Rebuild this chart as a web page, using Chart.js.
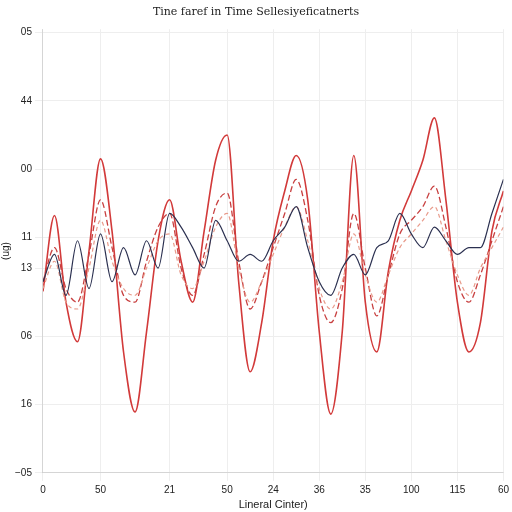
<!DOCTYPE html>
<html>
<head>
<meta charset="utf-8">
<script src="https://cdn.jsdelivr.net/npm/chart.js@4"></script>
<style>
  body { margin: 0; background: #fff; }
  #wrap { width: 512px; height: 512px; }
</style>
</head>
<body>
<div id="wrap"><canvas id="c"></canvas></div>
<script>
// x positions (41 samples) and the few labelled ticks
const xLabels = ['0', '50', '21', '50', '24', '36', '35', '100', '115', '60'];
const xTickIdx = [0, 5, 11, 16, 20, 24, 28, 32, 36, 40];

const yTickVals = [0, 1, 2, 3, 3.45, 4.45, 5.45, 6.45];
const yTickText = ['\u221205', '16', '06', '13', '11', '00', '44', '05'];

const bigRed = [2.66, 3.77, 2.5, 1.92, 3.25, 4.6, 3.54, 1.77, 0.89, 2.07, 3.4, 4.0, 3.1, 2.5, 3.54, 4.58, 4.95, 2.8, 1.48, 2.2,
  3.4, 4.13, 4.65, 4.0, 2.07, 0.86, 2.07, 4.65, 2.5, 1.77, 2.95, 3.7, 4.13, 4.58, 5.2, 4.0, 2.5, 1.77, 2.2, 3.54, 4.13];
const midRed = [2.8, 3.3, 2.7, 2.5, 3.2, 4.0, 3.3, 2.6, 2.5, 3.1, 3.6, 3.8, 3.0, 2.6, 3.2, 3.9, 4.1, 3.1, 2.4, 2.8,
  3.3, 3.8, 4.3, 3.7, 2.6, 2.2, 2.7, 3.8, 3.0, 2.3, 2.9, 3.5, 3.7, 3.9, 4.2, 3.6, 2.8, 2.5, 2.9, 3.4, 3.9];
const pinkDash = [2.7, 3.1, 2.5, 2.4, 3.0, 3.7, 3.1, 2.7, 2.6, 3.0, 3.4, 3.5, 2.9, 2.7, 3.1, 3.6, 3.8, 3.0, 2.5, 2.8,
  3.2, 3.6, 3.9, 3.4, 2.7, 2.4, 2.8, 3.5, 2.9, 2.5, 2.9, 3.3, 3.5, 3.7, 3.9, 3.4, 2.9, 2.6, 3.0, 3.3, 3.6];
const navy = [2.8, 3.2, 2.6, 3.4, 2.7, 3.5, 2.8, 3.3, 2.9, 3.4, 3.0, 3.8, 3.6, 3.3, 3.0, 3.7, 3.4, 3.1, 3.2, 3.1,
  3.4, 3.6, 3.9, 3.3, 2.8, 2.6, 3.0, 3.2, 2.9, 3.3, 3.4, 3.8, 3.5, 3.3, 3.6, 3.4, 3.2, 3.3, 3.3, 3.8, 4.3];

const xs = bigRed.map((_, i) => i);

function ds(label, data, color, width, dash) {
  return { label, data, borderColor: color, borderWidth: width, borderDash: dash,
    pointRadius: 0, tension: 0.45, fill: false, cubicInterpolationMode: 'monotone' };
}

new Chart(document.getElementById('c'), {
  type: 'line',
  data: {
    labels: xs,
    datasets: [
      ds('navy', navy, '#2b3050', 1.2, []),
      ds('pink', pinkDash, '#e89a8a', 1.2, [4, 3]),
      ds('mid', midRed, '#c84040', 1.3, [6, 3]),
      ds('big', bigRed, '#d23a3a', 1.6, [])
    ]
  },
  options: {
    responsive: true, maintainAspectRatio: false, animation: false,
    plugins: {
      legend: { display: false },
      title: { display: true, text: 'Tine faref in Time Sellesiyeficatnerts', color: '#222',
        font: { family: 'DejaVu Serif', size: 11, weight: 'normal' }, padding: { top: 6, bottom: 10 } }
    },
    scales: {
      x: {
        type: 'linear', min: 0, max: 40,
        afterBuildTicks: s => { s.ticks = xTickIdx.map(v => ({ value: v })); },
        ticks: { callback: v => xLabels[xTickIdx.indexOf(v)], color: '#222', font: { size: 10 }, maxRotation: 0 },
        grid: { color: '#eee' },
        title: { display: true, text: 'Lineral Cinter)', color: '#222', font: { size: 11 }, padding: 0 }
      },
      y: {
        min: 0, max: 6.5,
        afterBuildTicks: s => { s.ticks = yTickVals.map(v => ({ value: v })); },
        ticks: { callback: v => yTickText[yTickVals.indexOf(v)], color: '#222', font: { size: 10 } },
        grid: { color: '#eee' },
        title: { display: true, text: '(ug)', color: '#222', font: { size: 10 }, padding: 0 }
      }
    }
  }
});
</script>
</body>
</html>
